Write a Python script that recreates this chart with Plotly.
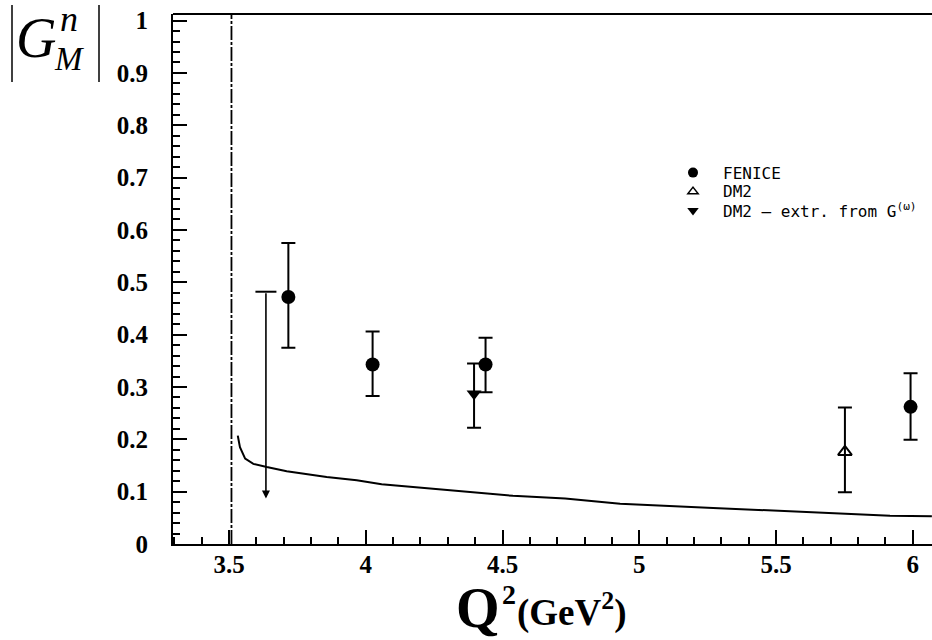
import plotly.graph_objects as go

# ---------------- data ----------------
fenice_q2 = [3.717, 4.025, 4.438, 5.992]
fenice_g = [0.472, 0.343, 0.343, 0.262]
fenice_err_up = [0.103, 0.063, 0.051, 0.064]
fenice_err_dn = [0.097, 0.060, 0.053, 0.063]

dm2_q2 = [5.752]
dm2_g = [0.176]
dm2_err_up = [0.085]
dm2_err_dn = [0.077]

dm2x_q2 = [4.396]
dm2x_g = [0.287]
dm2x_err_up = [0.058]
dm2x_err_dn = [0.065]

limit_q2 = 3.635
limit_top = 0.482
limit_tip = 0.087

threshold_q2 = [3.509, 3.509]
threshold_g = [0.0, 1.05]

curve_q2 = [3.532, 3.540, 3.559, 3.589, 3.638, 3.711, 3.857, 3.967, 4.058,
            4.282, 4.538, 4.729, 4.930, 5.270, 5.577, 5.917, 6.070]
curve_g = [0.207, 0.185, 0.163, 0.153, 0.147, 0.139, 0.128, 0.122, 0.114,
           0.104, 0.092, 0.087, 0.077, 0.069, 0.062, 0.054, 0.053]

legend_names = ["FENICE", "DM2", "DM2 \u2013 extr. from G<sup>(\u03c9)</sup>"]

# ---------------- layout geometry ----------------
W, H = 932, 640
ML, MR, MT, MB = 173, 0, 14, 96.4
PW, PH = W - ML - MR, H - MT - MB


def px(x):
    return (x - ML) / PW


def py(y):
    return (H - MB - y) / PH


fig = go.Figure()

# threshold line
fig.add_trace(go.Scatter(x=threshold_q2, y=threshold_g, mode="lines",
                         line=dict(color="black", width=1.8, dash="14px,2px,3px,2px"),
                         showlegend=False, hoverinfo="skip"))
# curve
fig.add_trace(go.Scatter(x=curve_q2, y=curve_g, mode="lines",
                         line=dict(color="black", width=2),
                         showlegend=False, hoverinfo="skip"))

eb = dict(type="data", symmetric=False, color="black", thickness=2, width=7)

fig.add_trace(go.Scatter(x=fenice_q2, y=fenice_g, mode="markers",
                         marker=dict(symbol="circle", size=14, color="black"),
                         error_y=dict(array=fenice_err_up, arrayminus=fenice_err_dn, **eb),
                         showlegend=False))
fig.add_trace(go.Scatter(x=dm2_q2, y=dm2_g, mode="markers",
                         marker=dict(symbol="triangle-up-open", size=12, color="black",
                                     line=dict(width=2)),
                         error_y=dict(array=dm2_err_up, arrayminus=dm2_err_dn, **eb),
                         showlegend=False))
fig.add_trace(go.Scatter(x=dm2x_q2, y=dm2x_g, mode="markers",
                         marker=dict(symbol="triangle-down", size=13, color="black"),
                         error_y=dict(array=dm2x_err_up, arrayminus=dm2x_err_dn, **eb),
                         showlegend=False))
# upper limit cap
fig.add_trace(go.Scatter(x=[limit_q2], y=[limit_top], mode="markers",
                         marker=dict(symbol="line-ew", size=15,
                                     line=dict(color="black", width=2)),
                         showlegend=False, hoverinfo="skip"))
fig.add_annotation(x=limit_q2, y=limit_tip, ax=limit_q2, ay=limit_top,
                   xref="x", yref="y", axref="x", ayref="y", text="",
                   showarrow=True, arrowhead=2, arrowsize=1.0, arrowwidth=1.6,
                   arrowcolor="black")

# legend symbols (labels drawn as annotations to match the wide legend font)
fig.add_trace(go.Scatter(x=[None], y=[None], mode="markers", name=" ",
                         marker=dict(symbol="circle", size=10, color="black")))
fig.add_trace(go.Scatter(x=[None], y=[None], mode="markers", name=" ",
                         marker=dict(symbol="triangle-up-open", size=9, color="black",
                                     line=dict(width=1.5))))
fig.add_trace(go.Scatter(x=[None], y=[None], mode="markers", name=" ",
                         marker=dict(symbol="triangle-down", size=10, color="black")))
for i, name in enumerate(legend_names):
    fig.add_annotation(text=name, xref="paper", yref="paper",
                       x=px(721), y=py(173 + 18.7 * i), xanchor="left", yanchor="middle",
                       showarrow=False,
                       font=dict(family="DejaVu Sans Mono", size=16, color="black"))

tickfont = dict(family="Liberation Serif", size=25, color="black", weight="bold")

fig.update_layout(
    width=W, height=H,
    margin=dict(l=ML, r=MR, t=MT, b=MB),
    paper_bgcolor="white", plot_bgcolor="white",
    legend=dict(x=px(664), y=py(158), xanchor="left", yanchor="top",
                itemwidth=48, bgcolor="rgba(0,0,0,0)",
                font=dict(family="DejaVu Sans", size=12, color="black"),
                tracegroupgap=0),
    xaxis=dict(range=[3.2952, 6.0704], showgrid=False, zeroline=False,
               showline=True, linecolor="black", linewidth=2,
               ticks="inside", ticklen=14, tickwidth=2, tickcolor="black",
               tick0=3.5, dtick=0.5, tickfont=tickfont, ticklabelstandoff=-3,
               minor=dict(ticks="inside", ticklen=7, tickwidth=1.5, dtick=0.1,
                          tick0=3.5, tickcolor="black", showgrid=False)),
    yaxis=dict(range=[0, 1.0126], showgrid=False, zeroline=False,
               showline=True, linecolor="black", linewidth=2,
               ticks="inside", ticklen=14, tickwidth=2, tickcolor="black",
               tick0=0, dtick=0.1, tickfont=tickfont, ticklabelstandoff=18,
               minor=dict(ticks="inside", ticklen=7, tickwidth=1.5, dtick=0.02,
                          tick0=0, tickcolor="black", showgrid=False)),
)

# top frame line
fig.add_shape(type="line", xref="paper", yref="paper", x0=0, x1=1, y0=1, y1=1,
              line=dict(color="black", width=2))

# y-axis title |G_M^n|
for xb in (12, 99):
    fig.add_shape(type="line", xref="paper", yref="paper",
                  x0=px(xb), x1=px(xb), y0=py(5), y1=py(82),
                  line=dict(color="black", width=1.5))
fig.add_annotation(text="<i>G</i>", xref="paper", yref="paper", x=px(36), y=py(38),
                   xanchor="center", yanchor="middle", showarrow=False,
                   font=dict(family="Liberation Serif", size=56, color="black"))
fig.add_annotation(text="<i>n</i>", xref="paper", yref="paper", x=px(69), y=py(19),
                   xanchor="center", yanchor="middle", showarrow=False,
                   font=dict(family="Liberation Serif", size=36, color="black"))
fig.add_annotation(text="<i>M</i>", xref="paper", yref="paper", x=px(69), y=py(59),
                   xanchor="center", yanchor="middle", showarrow=False,
                   font=dict(family="Liberation Serif", size=33, color="black"))

# x-axis title Q^2 (GeV^2)
fig.add_annotation(text="<b>Q</b>", xref="paper", yref="paper",
                   x=px(478), y=py(608), xanchor="center", yanchor="middle",
                   showarrow=False,
                   font=dict(family="Liberation Serif", size=56, color="black"))
fig.add_annotation(text="<b>2</b>", xref="paper", yref="paper",
                   x=px(509), y=py(594), xanchor="center", yanchor="middle",
                   showarrow=False,
                   font=dict(family="Liberation Serif", size=28, color="black"))
fig.add_annotation(text="<b>(GeV<sup>2</sup>)</b>", xref="paper", yref="paper",
                   x=px(515), y=py(610), xanchor="left", yanchor="middle",
                   showarrow=False,
                   font=dict(family="Liberation Serif", size=37, color="black"))

fig.write_html("out.html", config={"displayModeBar": False},
               post_script="document.body.style.margin='0';")
